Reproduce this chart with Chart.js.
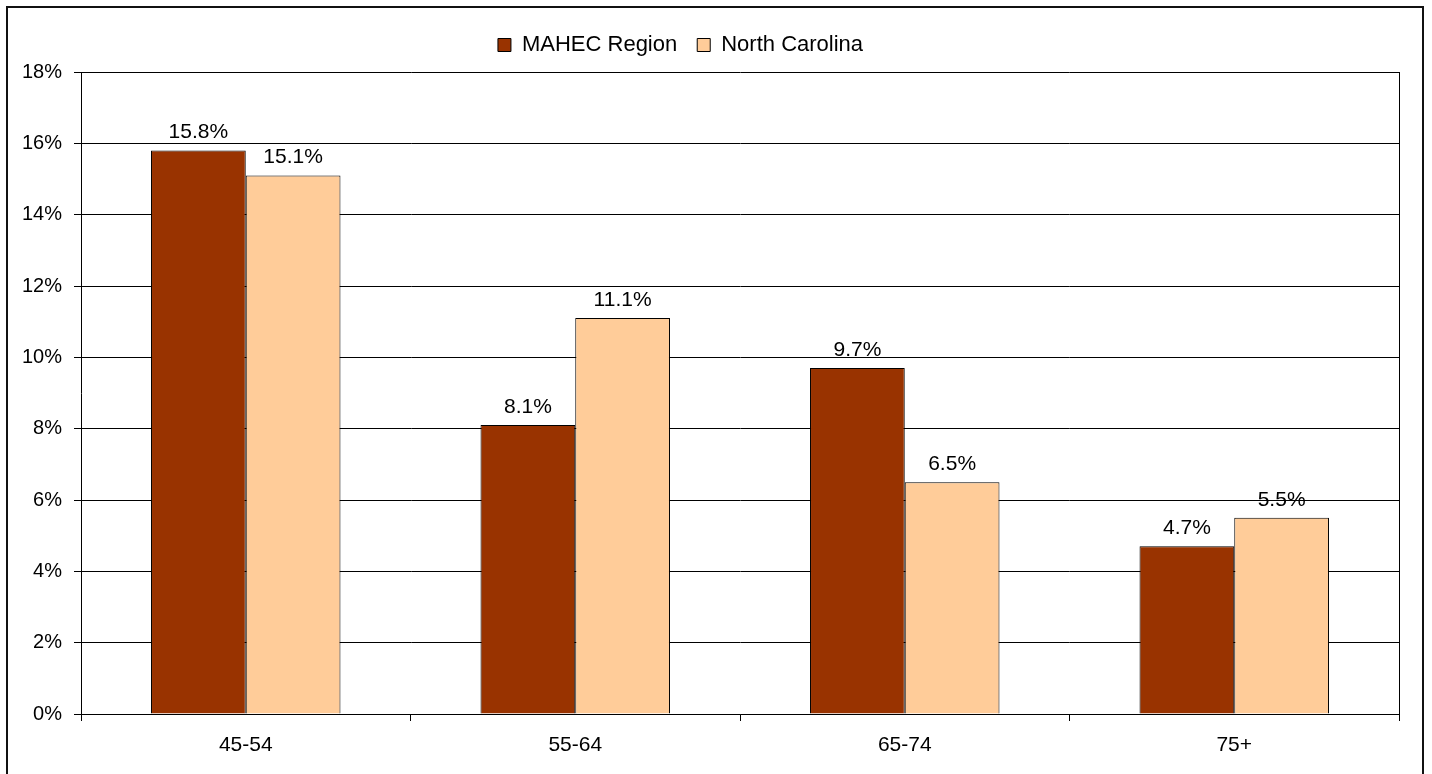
<!DOCTYPE html>
<html>
<head>
<meta charset="utf-8">
<script src="https://cdn.jsdelivr.net/npm/chart.js@4"></script>
<style>
  html, body { margin: 0; padding: 0; background: #fff; }
  #wrap { position: relative; width: 1432px; height: 774px; overflow: hidden; }
  #frame { position: absolute; left: 6px; top: 6px; width: 1418px; height: 800px; border: 2px solid #111; box-sizing: border-box; }
  canvas { position: absolute; left: 0; top: 0; }
</style>
</head>
<body>
<div id="wrap">
  <div id="frame"></div>
  <canvas id="ageChart" width="1432" height="774"></canvas>
</div>
<script>
// Age group share, MAHEC region vs state

const ageGroups = ['45-54', '55-64', '65-74', '75+']
const mahecRegion = [15.8, 8.1, 9.7, 4.7]
const northCarolina = [15.1, 11.1, 6.5, 5.5]

Chart.defaults.font.family = '"Liberation Sans", Arial, sans-serif'
Chart.defaults.font.size = 20
Chart.defaults.color = '#000'

// value labels above each bar
const barLabels = {
  id: 'barLabels',
  afterLayout(chart) {
    // nudge legend up/left to where the original sits
    const l = chart.legend
    l.left -= 19; l.right -= 19
    l.top -= 6; l.bottom -= 6
  },
  afterDatasetsDraw(chart) {
    const ctx = chart.ctx
    ctx.save()
    ctx.font = '21px "Liberation Sans", Arial, sans-serif'
    ctx.fillStyle = '#000'
    ctx.textAlign = 'center'
    ctx.textBaseline = 'alphabetic'
    chart.data.datasets.forEach((ds, i) => {
      chart.getDatasetMeta(i).data.forEach((bar, j) => {
        ctx.fillText(ds.data[j].toFixed(1) + '%', bar.x, bar.y - 12)
      })
    })
    // right edge of plot area
    const a = chart.chartArea
    ctx.strokeStyle = '#000'
    ctx.lineWidth = 1
    ctx.beginPath()
    ctx.moveTo(Math.round(a.right) + 0.5, a.top)
    ctx.lineTo(Math.round(a.right) + 0.5, a.bottom)
    ctx.stroke()
    ctx.restore()
  }
}

const ctx = document.getElementById('ageChart').getContext('2d')
const ageChart = new Chart(ctx, {
  type: 'bar',
  data: {
    labels: ageGroups,
    datasets: [{
      label: 'MAHEC Region',
      data: mahecRegion,
      backgroundColor: '#993300',
      borderColor: '#000',
      borderWidth: 1,
      categoryPercentage: 0.575,
      barPercentage: 1.0
    }, {
      label: 'North Carolina',
      data: northCarolina,
      backgroundColor: '#FFCC99',
      borderColor: '#000',
      borderWidth: 1,
      categoryPercentage: 0.575,
      barPercentage: 1.0
    }]
  },
  options: {
    responsive: false,
    animation: false,
    layout: { padding: { left: 0, right: 33, top: 20, bottom: 0 } },
    plugins: {
      legend: {
        position: 'top',
        labels: { boxWidth: 13, boxHeight: 13, padding: 20, color: '#000', font: { size: 22 } }
      },
      tooltip: { enabled: false }
    },
    scales: {
      x: {
        grid: { offset: true, drawOnChartArea: false, tickLength: 7, color: '#000' },
        border: { color: '#000' },
        ticks: { padding: 12, font: { size: 21 } },
        afterFit(scale) { scale.height = 60 }
      },
      y: {
        min: 0,
        max: 18,
        ticks: { stepSize: 2, padding: 12, callback: v => v + '%' },
        grid: { color: '#000', tickLength: 7 },
        border: { color: '#000' },
        afterFit(scale) { scale.width = 81 }
      }
    }
  },
  plugins: [barLabels]
})
</script>
</body>
</html>
